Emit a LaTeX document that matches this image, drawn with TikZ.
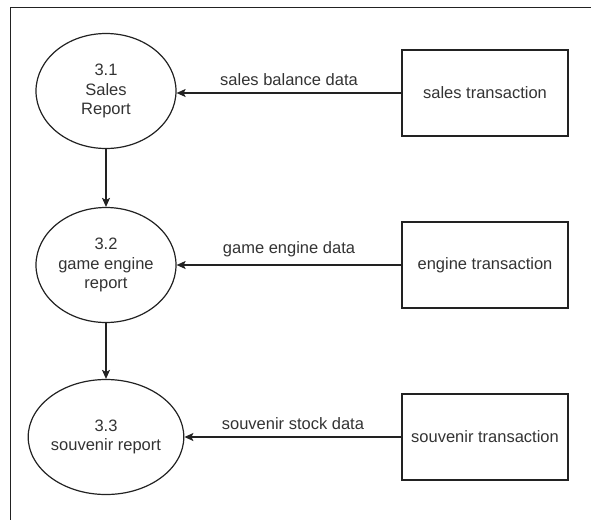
\documentclass[tikz,border=0pt]{standalone}
\usepackage{fontspec}
\setmainfont{Liberation Sans}
\usetikzlibrary{shapes.geometric,arrows.meta}
\definecolor{ink}{HTML}{222222}
\definecolor{txt}{HTML}{333333}
\begin{document}
\begin{tikzpicture}[x=1pt,y=-1pt,
  every node/.style={font=\fontsize{16.5}{19.5}\selectfont, text=txt},
  proc/.style={draw=ink, line width=1.2pt, ellipse, minimum width=140pt, minimum height=115pt, inner sep=0pt, align=center},
  ent/.style={draw=ink, line width=1.2pt, rectangle, minimum width=166pt, minimum height=86pt, inner sep=0pt, align=center},
  flow/.style={draw=ink, line width=1.2pt, -{Stealth[length=9pt,width=8pt,inset=2pt]}},
  lbl/.style={inner sep=0pt}
]
\useasboundingbox (0,0) rectangle (591,520);
\draw[ink, line width=1pt] (591,7) -- (10,7) -- (10,520);

\node[proc] (p1) at (106,91) {3.1\\Sales\\Report};
\node[proc] (p2) at (106,265) {3.2\\game engine\\report};
\node[proc] (p3) at (106,437) {3.3\\souvenir report};

\node[ent] (e1) at (485,93) {sales transaction};
\node[ent] (e2) at (485,265) {engine transaction};
\node[ent] (e3) at (485,437) {souvenir transaction};

\draw[flow] (e1.west) -- (p1.east |- e1.west) node[lbl, pos=0.5, above=7pt] {sales balance data};
\draw[flow] (e2.west) -- (p2.east |- e2.west) node[lbl, pos=0.5, above=7pt] {game engine data};
\draw[flow] (e3.west) -- (p3.east |- e3.west) node[lbl, pos=0.5, above=7pt] {souvenir stock data};

\draw[flow] (p1.south) -- (p2.north);
\draw[flow] (p2.south) -- (p3.north);
\end{tikzpicture}
\end{document}
